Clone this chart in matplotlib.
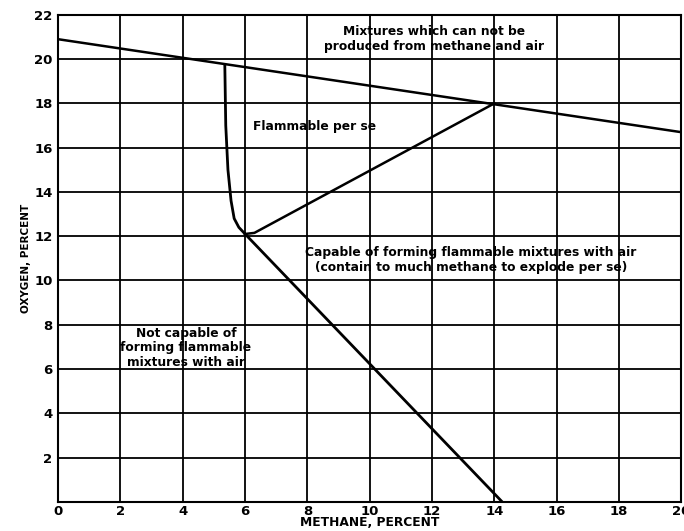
import matplotlib
matplotlib.use("Agg")
import matplotlib.pyplot as plt
import numpy as np

# air line: mixtures of methane + air
air_x = [0, 20]
air_y = [20.9, 16.7]

# upper flammable limit curve
upper_x = [5.35, 5.38, 5.45, 5.55, 5.65, 5.8, 6.0]
upper_y = [19.7, 17.0, 15.0, 13.6, 12.8, 12.4, 12.1]

# lower limit line (to zero oxygen)
lower_x = [6.0, 14.25]
lower_y = [12.1, 0.0]

# nose line to air line
nose_x = [6.0, 6.3, 14.0]
nose_y = [12.1, 12.15, 18.0]

x_ticks = list(range(0, 21, 2))
y_ticks = list(range(2, 23, 2))

fig = plt.figure(figsize=(6.84, 5.31), dpi=100)
ax = fig.add_axes([0.085, 0.055, 0.911, 0.917])

ax.set_xlim(0, 20)
ax.set_ylim(0, 22)
ax.set_xticks(x_ticks)
ax.set_yticks(y_ticks)
ax.tick_params(length=0, labelsize=9.5, pad=4)
ax.tick_params(axis="x", pad=2)
for lab in ax.get_xticklabels() + ax.get_yticklabels():
    lab.set_fontweight("bold")
ax.grid(True, color="black", lw=1.3)
for s in ax.spines.values():
    s.set_linewidth(1.5)

ax.plot(air_x, air_y, color="black", lw=1.8)
ax.plot(upper_x, upper_y, color="black", lw=2.0)
ax.plot(lower_x, lower_y, color="black", lw=2.0)
ax.plot(nose_x, nose_y, color="black", lw=1.8)

kw = dict(fontsize=8.8, fontweight="bold", ha="center", va="center", linespacing=1.15)
ax.text(12.05, 20.9, "Mixtures which can not be\nproduced from methane and air", **kw)
ax.text(8.22, 16.95, "Flammable per se", **kw)
ax.text(13.25, 10.93, "Capable of forming flammable mixtures with air\n"
        "(contain to much methane to explode per se)", **kw)
ax.text(4.1, 6.95, "Not capable of\nforming flammable\nmixtures with air", **kw)

ax.set_xlabel("METHANE, PERCENT", fontsize=8.8, fontweight="bold", labelpad=-1)
ax.set_ylabel("OXYGEN, PERCENT", fontsize=7.5, fontweight="bold", labelpad=2)

fig.savefig("out.png", dpi=100)
